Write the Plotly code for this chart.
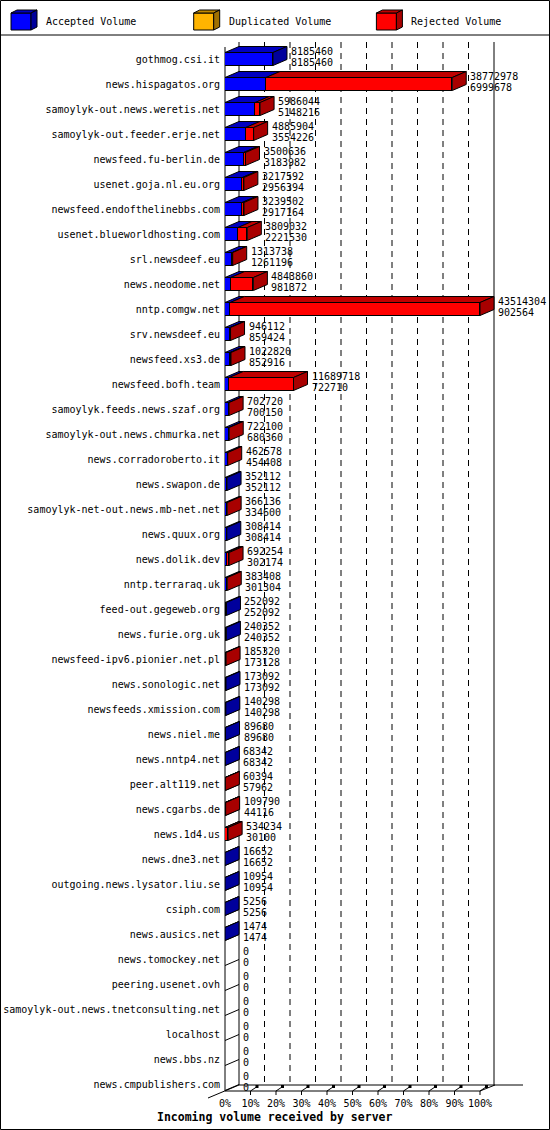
import plotly.graph_objects as go

hosts = [
    "gothmog.csi.it", "news.hispagatos.org", "samoylyk-out.news.weretis.net",
    "samoylyk-out.feeder.erje.net", "newsfeed.fu-berlin.de", "usenet.goja.nl.eu.org",
    "newsfeed.endofthelinebbs.com", "usenet.blueworldhosting.com", "srl.newsdeef.eu",
    "news.neodome.net", "nntp.comgw.net", "srv.newsdeef.eu", "newsfeed.xs3.de",
    "newsfeed.bofh.team", "samoylyk.feeds.news.szaf.org", "samoylyk-out.news.chmurka.net",
    "news.corradoroberto.it", "news.swapon.de", "samoylyk-net-out.news.mb-net.net",
    "news.quux.org", "news.dolik.dev", "nntp.terraraq.uk", "feed-out.gegeweb.org",
    "news.furie.org.uk", "newsfeed-ipv6.pionier.net.pl", "news.sonologic.net",
    "newsfeeds.xmission.com", "news.niel.me", "news.nntp4.net", "peer.alt119.net",
    "news.cgarbs.de", "news.1d4.us", "news.dne3.net", "outgoing.news.lysator.liu.se",
    "csiph.com", "news.ausics.net", "news.tomockey.net", "peering.usenet.ovh",
    "samoylyk-out.news.tnetconsulting.net", "localhost", "news.bbs.nz",
    "news.cmpublishers.com",
]

accepted_volume = [
    8185460, 6999678, 5148216, 3554226, 3183982, 2956394, 2917164, 2221530,
    1261196, 981372, 902564, 859424, 852916, 722710, 700150, 680360,
    454408, 352112, 334600, 308414, 302174, 301304, 252092, 240352, 173128,
    173092, 140298, 89680, 68342, 57962, 44116, 30100, 16652, 10954, 5256,
    1474, 0, 0, 0, 0, 0, 0,
]

duplicated_volume = [0] * 42

rejected_volume = [
    0, 31773300, 837828, 1331678, 316654, 261198, 322338, 1587502,
    52542, 3862488, 42611740, 86688, 169904, 10967008, 2570, 41740,
    8170, 0, 31536, 0, 390080, 82104, 0, 0, 12192,
    0, 0, 0, 0, 2432, 65674, 504134, 0, 0, 0,
    0, 0, 0, 0, 0, 0, 0,
]

tick_labels = ["0%", "10%", "20%", "30%", "40%", "50%", "60%", "70%", "80%", "90%", "100%"]
legend_names = ["Accepted Volume", "Duplicated Volume", "Rejected Volume"]

FRONT = ["#0000FF", "#FFB400", "#FF0000"]
TOP = ["#0000C0", "#C08800", "#C00000"]
SIDE = ["#00009C", "#A07000", "#A80000"]

MONO = "DejaVu Sans Mono"
W, H = 550, 1130
PL, PR, PT, PB = 225, 495, 42, 1091      # plot area (pixels)
FRONT_R = 480                              # 100% on the front plane
DEPTH_X, DEPTH_Y = 14, 6                   # 3D depth (pixels)
ROW0, ROWSTEP = 59, 25                     # pixel centre of first row, row spacing
BAR_W = 13 / ROWSTEP

n = len(hosts)
idx = list(range(n))
totals = [a + d + r for a, d, r in zip(accepted_volume, duplicated_volume, rejected_volume)]
XMAX = max(totals)
XR = XMAX * (PR - PL) / (FRONT_R - PL)
y_top = (PT - ROW0) / ROWSTEP
y_bot = (PB - ROW0) / ROWSTEP
DXd = DEPTH_X * XR / (PR - PL)
DYd = DEPTH_Y / ROWSTEP


def px(x):
    return (x - PL) / (PR - PL)


def py(y):
    return (PB - y) / (PB - PT)


fig = go.Figure()
series = [accepted_volume, duplicated_volume, rejected_volume]
for k, vals in enumerate(series):
    fig.add_trace(go.Bar(
        y=idx, x=vals, orientation="h", name=legend_names[k],
        marker=dict(color=FRONT[k], line=dict(color="black", width=1 if k != 1 else 0)),
        width=BAR_W, showlegend=False, hoverinfo="skip",
    ))

shapes = []
annotations = []


def pline(x0, y0, x1, y1, dash="solid", layer="below", width=1):
    shapes.append(dict(type="line", xref="paper", yref="paper",
                       x0=px(x0), y0=py(y0), x1=px(x1), y1=py(y1),
                       line=dict(color="black", width=width, dash=dash), layer=layer))


# back wall / grid (behind bars)
step = (FRONT_R - PL) / 10
for k in range(11):
    xb = PL + DEPTH_X + k * step
    pline(xb, PT, xb, PB - DEPTH_Y, dash="solid" if k in (0, 10) else "6px,5px")
# left wall front line
pline(PL, PT + 5, PL, PB)
# per-row floor lines on the left wall
for i in idx:
    yb = ROW0 + i * ROWSTEP + 6.5
    pline(PL, yb, PL + DEPTH_X, yb - DEPTH_Y)
# floor
pline(PL - 17, PB + 7, PL + DEPTH_X, PB - DEPTH_Y)
pline(PL, PB, FRONT_R, PB)
pline(FRONT_R, PB, PR, PB - DEPTH_Y)
pline(PL + DEPTH_X, PB - DEPTH_Y, 523, PB - DEPTH_Y)
# bottom 3D tick marks
for k in range(1, 11):
    xf = PL + k * step
    pline(xf, PB + 4, xf, PB)
    pline(xf, PB, xf + 6, PB - 4)
    shapes.append(dict(type="rect", xref="paper", yref="paper",
                       x0=px(xf + 5), x1=px(xf + 8), y0=py(PB - 3), y1=py(PB - 6),
                       fillcolor="black", line=dict(width=0), layer="below"))

# 3D faces of the bars (data coordinates)
for i in idx:
    segs = []
    start = 0
    for k, vals in enumerate(series):
        v = vals[i]
        if v > 0:
            segs.append((start, start + v, k))
        start += v
    if not segs:
        continue
    yt = i - BAR_W / 2
    yb = i + BAR_W / 2
    for (x0, x1, k) in segs:
        shapes.append(dict(
            type="path", xref="x", yref="y", layer="above",
            path=f"M{x0},{yt} L{x1},{yt} L{x1 + DXd},{yt - DYd} L{x0 + DXd},{yt - DYd} Z",
            fillcolor=TOP[k], line=dict(color="black", width=1)))
    x_end, k_last = segs[-1][1], segs[-1][2]
    shapes.append(dict(
        type="path", xref="x", yref="y", layer="above",
        path=f"M{x_end},{yt} L{x_end + DXd},{yt - DYd} L{x_end + DXd},{yb - DYd} L{x_end},{yb} Z",
        fillcolor=SIDE[k_last], line=dict(color="black", width=1)))

# value labels (total on top, accepted below)
for i in idx:
    tot = totals[i]
    for txt, ys in ((str(tot), 8), (str(accepted_volume[i]), -3)):
        annotations.append(dict(x=tot, y=i, xref="x", yref="y", text=txt,
                                showarrow=False, xanchor="left", yanchor="middle",
                                xshift=17, yshift=ys, borderpad=0,
                                font=dict(family=MONO, size=10, color="black")))

# legend (custom 3D cubes)
pline(0, 35, W, 35, layer="above")
for k, name in enumerate(legend_names):
    x0 = 11 + k * 182.7
    x1 = x0 + 20
    t, b = 13, 30
    shapes.append(dict(type="rect", xref="paper", yref="paper",
                       x0=px(x0), x1=px(x1), y0=py(b), y1=py(t),
                       fillcolor=FRONT[k], line=dict(color="black", width=1)))
    shapes.append(dict(type="path", xref="paper", yref="paper",
                       path=(f"M{px(x0)},{py(t)} L{px(x1)},{py(t)} L{px(x1 + 6)},{py(t - 3)} "
                             f"L{px(x0 + 6)},{py(t - 3)} Z"),
                       fillcolor=TOP[k], line=dict(color="black", width=1)))
    shapes.append(dict(type="path", xref="paper", yref="paper",
                       path=(f"M{px(x1)},{py(t)} L{px(x1 + 6)},{py(t - 3)} L{px(x1 + 6)},{py(b - 3)} "
                             f"L{px(x1)},{py(b)} Z"),
                       fillcolor=SIDE[k], line=dict(color="black", width=1)))
    annotations.append(dict(x=px(x0 + 33), y=py(21), xref="paper", yref="paper",
                            text=name, showarrow=False, xanchor="left", yanchor="middle",
                            font=dict(family=MONO, size=10, color="black")))

# axis title
annotations.append(dict(x=px(274), y=py(1117), xref="paper", yref="paper",
                        text="<b>Incoming volume received by server</b>", showarrow=False,
                        xanchor="center", yanchor="middle",
                        font=dict(family=MONO, size=11.5, color="black")))

# outer border
shapes.append(dict(type="rect", xref="paper", yref="paper",
                   x0=px(0.5), x1=px(W - 0.5), y0=py(H - 0.5), y1=py(0.5),
                   line=dict(color="black", width=1), fillcolor="rgba(0,0,0,0)", layer="above"))

fig.update_layout(
    template="none",
    width=W, height=H,
    margin=dict(l=PL, r=W - PR, t=PT, b=H - PB, pad=0, autoexpand=False),
    paper_bgcolor="white", plot_bgcolor="rgba(0,0,0,0)",
    barmode="stack", bargap=0,
    shapes=shapes, annotations=annotations,
    showlegend=False,
    xaxis=dict(range=[0, XR], tickvals=[XMAX * k / 10 for k in range(11)],
               ticktext=tick_labels, showgrid=False, zeroline=False, showline=False,
               ticks="", ticklabelstandoff=5, fixedrange=True, automargin=False,
               tickfont=dict(family=MONO, size=10, color="black")),
    yaxis=dict(range=[y_bot, y_top], tickvals=idx, ticktext=hosts,
               showgrid=False, zeroline=False, showline=False, ticks="",
               ticklabelstandoff=4, fixedrange=True, automargin=False,
               tickfont=dict(family=MONO, size=10, color="black")),
)

fig.write_html(
    "out.html",
    config={"displayModeBar": False},
    post_script="document.body.style.margin='0';document.body.style.overflow='hidden';",
)
